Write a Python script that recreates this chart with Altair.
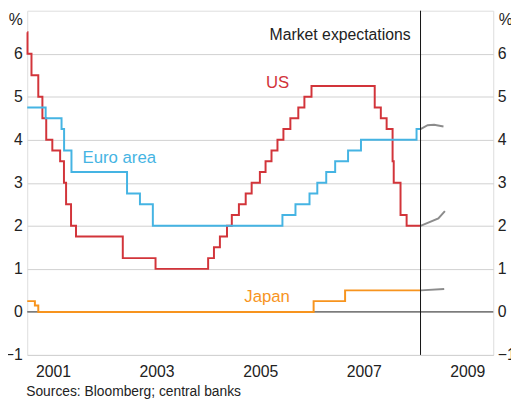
import altair as alt
import pandas as pd

# ---- data (policy rates, %) ----
us_dates = ["2001-01-01", "2001-01-03", "2001-01-31", "2001-03-20", "2001-04-18", "2001-05-15",
            "2001-06-27", "2001-08-21", "2001-09-17", "2001-10-02", "2001-11-06", "2001-12-11",
            "2002-11-06", "2003-06-25", "2004-06-30", "2004-08-10", "2004-09-21", "2004-11-10",
            "2004-12-14", "2005-02-02", "2005-03-22", "2005-05-03", "2005-06-30", "2005-08-09",
            "2005-09-20", "2005-11-01", "2005-12-13", "2006-01-31", "2006-03-28", "2006-05-10",
            "2006-06-29", "2007-09-18", "2007-10-31", "2007-12-11", "2008-01-22", "2008-01-30",
            "2008-03-18", "2008-04-30", "2008-08-06"]
us_rates = [6.5, 6.0, 5.5, 5.0, 4.5, 4.0, 3.75, 3.5, 3.0, 2.5, 2.0, 1.75, 1.25, 1.0, 1.25, 1.5,
            1.75, 2.0, 2.25, 2.5, 2.75, 3.0, 3.25, 3.5, 3.75, 4.0, 4.25, 4.5, 4.75, 5.0, 5.25,
            4.75, 4.5, 4.25, 3.5, 3.0, 2.25, 2.0, 2.0]

eu_dates = ["2001-01-01", "2001-05-11", "2001-08-31", "2001-09-18", "2001-11-09", "2002-12-06",
            "2003-03-07", "2003-06-06", "2005-12-06", "2006-03-08", "2006-06-15", "2006-08-09",
            "2006-10-11", "2006-12-13", "2007-03-14", "2007-06-13", "2008-07-09", "2008-08-06"]
eu_rates = [4.75, 4.5, 4.25, 3.75, 3.25, 2.75, 2.5, 2.0, 2.25, 2.5, 2.75, 3.0, 3.25, 3.5, 3.75,
            4.0, 4.25, 4.25]

jp_dates = ["2001-01-01", "2001-02-24", "2001-03-20", "2006-07-14", "2007-02-21", "2008-08-06"]
jp_rates = [0.25, 0.15, 0.0, 0.25, 0.5, 0.5]

# market expectations
exp_us_dates = ["2008-08-06", "2008-12-10", "2009-01-25"]
exp_us_rates = [2.0, 2.17, 2.34]
exp_eu_dates = ["2008-08-06", "2008-09-25", "2008-11-10", "2009-01-15"]
exp_eu_rates = [4.25, 4.34, 4.35, 4.31]
exp_jp_dates = ["2008-08-06", "2009-01-20"]
exp_jp_rates = [0.5, 0.53]

cut_date = ["2008-08-06"]

series_names = ["US", "Euro area", "Japan"]
series_colors = ["#d2343a", "#45b4e3", "#f7941e"]
label_dates = ["2005-11-02", "2002-10-12", "2005-08-20"]
label_rates = [5.31, 3.575, 0.343]

tick_years = [2001, 2003, 2005, 2007, 2009]
y_ticks = [-1, 0, 1, 2, 3, 4, 5, 6]

# ---- frames ----
def frame(dates, rates, name):
    return pd.DataFrame({"date": dates, "rate": rates, "series": name})

hist = pd.concat([frame(us_dates, us_rates, "US"),
                  frame(eu_dates, eu_rates, "Euro area"),
                  frame(jp_dates, jp_rates, "Japan")], ignore_index=True)
expd = pd.concat([frame(exp_us_dates, exp_us_rates, "US"),
                  frame(exp_eu_dates, exp_eu_rates, "Euro area"),
                  frame(exp_jp_dates, exp_jp_rates, "Japan")], ignore_index=True)
labels = pd.DataFrame({"date": label_dates, "rate": label_rates, "series": series_names})
cut = pd.DataFrame({"date": cut_date})
zero = pd.DataFrame({"rate": [0]})
mkt = pd.DataFrame({"date": cut_date, "rate": [6.43], "text": ["Market expectations"]})

FONT = "Liberation Sans"
W, H = 472.5, 349

xscale = alt.Scale(domain=[alt.DateTime(year=2001, month=1, date=1),
                           alt.DateTime(year=2010, month=1, date=1)])
yscale = alt.Scale(domain=[-1, 7], nice=False, zero=False)
cscale = alt.Scale(domain=series_names, range=series_colors)

x_axis = alt.Axis(values=[alt.DateTime(year=y, month=7, date=2) for y in tick_years],
                  format="%Y", grid=False, ticks=False, tickSize=0, domain=False,
                  labelPadding=9, labelFontSize=16,
                  labelColor="#222222", labelFont=FONT, title=None)
x_enc = alt.X("date:T", scale=xscale, axis=x_axis, title=None)

left_axis = alt.Axis(values=y_ticks, grid=True, gridColor="#d0d0d0", gridWidth=1,
                     domain=False, ticks=False, tickSize=0, labelPadding=5,
                     labelFontSize=16, labelColor="#222222", labelFont=FONT,
                     title="%", titleAngle=0, titleX=-12, titleY=14.4, titleAlign="center",
                     titleBaseline="alphabetic", titleFontSize=16, titleFontWeight="normal",
                     titleColor="#222222", titleFont=FONT)
right_axis = alt.Axis(orient="right", values=y_ticks, grid=False, domain=False, ticks=False,
                      tickSize=0, labelPadding=4, labelFontSize=16, labelColor="#222222",
                      labelFont=FONT, title="%", titleAngle=0, titleX=5, titleY=14.4,
                      titleAlign="left", titleBaseline="alphabetic", titleFontSize=16,
                      titleFontWeight="normal", titleColor="#222222", titleFont=FONT)

zero_layer = alt.Chart(zero).mark_rule(color="#333333", strokeWidth=1).encode(
    y=alt.Y("rate:Q", scale=yscale, axis=None)
)

hist_layer = alt.Chart(hist).mark_line(interpolate="step-after", strokeWidth=2).encode(
    x=x_enc,
    y=alt.Y("rate:Q", scale=yscale, axis=left_axis),
    color=alt.Color("series:N", scale=cscale, legend=None),
    detail="series:N",
)

exp_layer = alt.Chart(expd).mark_line(strokeWidth=2, color="#8c8c8c").encode(
    x=x_enc,
    y=alt.Y("rate:Q", scale=yscale, axis=right_axis),
    detail="series:N",
)

cut_layer = alt.Chart(cut).mark_rule(color="#111111", strokeWidth=1).encode(x=x_enc)

label_layer = alt.Chart(labels).mark_text(fontSize=17, font=FONT, align="center",
                                          baseline="middle").encode(
    x=x_enc,
    y=alt.Y("rate:Q", scale=yscale, axis=None),
    text="series:N",
    color=alt.Color("series:N", scale=cscale, legend=None),
)

mkt_layer = alt.Chart(mkt).mark_text(fontSize=16, font=FONT, align="right", baseline="middle",
                                     dx=-10, color="#222222").encode(
    x=x_enc,
    y=alt.Y("rate:Q", scale=yscale, axis=None),
    text="text:N",
)

source_layer = alt.Chart(pd.DataFrame({"text": ["Sources: Bloomberg; central banks"]})).mark_text(
    fontSize=14, font=FONT, align="left", baseline="alphabetic", color="#222222"
).encode(x=alt.value(-1), y=alt.value(H + 42), text="text:N")

chart = alt.layer(
    hist_layer, exp_layer, zero_layer, cut_layer, label_layer, mkt_layer, source_layer
).resolve_axis(y="independent").properties(
    width=W, height=H,
    autosize=alt.AutoSizeParams(type="none"),
    padding={"left": 19.5, "top": 0, "right": 18, "bottom": 46},
)

# draw the zero line beneath the series (move its layer to the bottom)
chart.layer = [zero_layer.properties()] + [hist_layer, exp_layer, cut_layer, label_layer,
                                          mkt_layer, source_layer]

chart = chart.configure_view(stroke="#444444", strokeWidth=1).configure(
    font=FONT, background="white")

chart.save("out.html", embed_options={"renderer": "svg", "actions": False})
